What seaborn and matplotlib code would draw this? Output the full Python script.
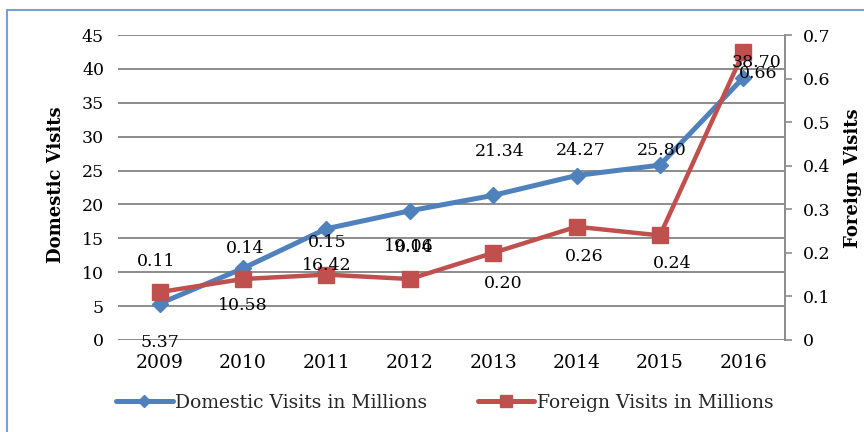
import matplotlib
matplotlib.use('Agg')
import matplotlib.pyplot as plt
import seaborn as sns
import pandas as pd
from matplotlib.lines import Line2D
from matplotlib.patches import Rectangle

# ---- data ----
years = ['2009', '2010', '2011', '2012', '2013', '2014', '2015', '2016']
domestic = [5.37, 10.58, 16.42, 19.06, 21.34, 24.27, 25.80, 38.70]
foreign = [0.11, 0.14, 0.15, 0.14, 0.20, 0.26, 0.24, 0.66]
left_ticks = [0, 5, 10, 15, 20, 25, 30, 35, 40, 45]
right_ticks = [0, 0.1, 0.2, 0.3, 0.4, 0.5, 0.6, 0.7]
right_tick_labels = ['0', '0.1', '0.2', '0.3', '0.4', '0.5', '0.6', '0.7']
domestic_name = 'Domestic Visits in Millions'
foreign_name = 'Foreign Visits in Millions'

# label offsets in pixels (position/style only)
dom_off = [(0, -39), (0, -37), (0, -37), (-1, -36), (7, 44), (4, 25), (2, 15), (13, 15)]
for_off = [(-4, 31), (2, 31), (1, 32), (4, 32), (10, -31), (8, -30), (12, -28), (15, -21)]

blue = '#4F81BD'
red = '#C0504D'
grid_c = '#8C8C8C'

sns.set_theme(style='white')
plt.rcParams['font.family'] = ['DejaVu Serif']

W, H = 864, 432
fig = plt.figure(figsize=(W / 100, H / 100), dpi=100)
fig.patch.set_facecolor('white')
ax = fig.add_axes([118 / W, 1 - 340 / H, (785 - 118) / W, (340 - 35) / H])

df = pd.DataFrame({'idx': list(range(len(years))), 'Domestic': domestic, 'Foreign': foreign})

sns.lineplot(data=df, x='idx', y='Domestic', ax=ax, color=blue, linewidth=3.6,
             marker='D', markersize=8.5, markeredgecolor=blue, markeredgewidth=1,
             legend=False)
ax2 = ax.twinx()
sns.lineplot(data=df, x='idx', y='Foreign', ax=ax2, color=red, linewidth=3.2,
             marker='s', markersize=11, markeredgecolor=red, markeredgewidth=1,
             legend=False)

ax.set_xlim(-0.5, len(years) - 0.5)
ax.set_ylim(0, 45)
ax2.set_ylim(0, 0.7)

ax.set_yticks(left_ticks)
ax.set_yticklabels([str(t) for t in left_ticks])
ax2.set_yticks(right_ticks)
ax2.set_yticklabels(right_tick_labels)
ax.set_xticks(range(len(years)))
ax.set_xticklabels(years)

ax.grid(axis='y', color=grid_c, linewidth=1.4)
ax.grid(axis='x', visible=False)
ax.set_axisbelow(True)
for s in ax.spines.values():
    s.set_visible(False)
for name, s in ax2.spines.items():
    s.set_visible(name == 'right')
ax2.spines['right'].set_color(grid_c)
ax2.spines['right'].set_linewidth(1.4)

ax.tick_params(axis='y', length=0, pad=10, labelsize=12.5, colors='black')
ax.tick_params(axis='x', length=0, pad=10, labelsize=13.5, colors='black')
ax2.tick_params(axis='y', length=5, width=1.2, color=grid_c, pad=8, labelsize=12.5,
                labelcolor='black')

ax.set_xlabel('')
ax.set_ylabel('Domestic Visits', fontsize=13, fontweight='bold', color='black')
ax2.set_ylabel('Foreign Visits', fontsize=13, fontweight='bold', color='black')
ax.yaxis.set_label_coords(-0.079, 0.51)
ax2.yaxis.set_label_coords(1.088, 0.53)

# data labels
for i, (v, off) in enumerate(zip(domestic, dom_off)):
    ax2.annotate(f'{v:.2f}', xy=(i, v), xycoords=ax.transData, xytext=off,
                 textcoords='offset pixels', ha='center', va='center',
                 fontsize=12.5, color='black', zorder=5)
for i, (v, off) in enumerate(zip(foreign, for_off)):
    ax2.annotate(f'{v:.2f}', xy=(i, v), xycoords='data', xytext=off,
                 textcoords='offset pixels', ha='center', va='center',
                 fontsize=12.5, color='black', zorder=5)

# legend
handles = [Line2D([], [], color=blue, lw=3.6, marker='D', markersize=6),
           Line2D([], [], color=red, lw=3.6, marker='s', markersize=9)]
fig.legend(handles, [domestic_name, foreign_name], loc='center',
           bbox_to_anchor=(445 / W, 1 - 403 / H), ncol=2, frameon=False,
           fontsize=13.5, handlelength=3.0, handletextpad=0.15, columnspacing=2.7)

# chart border
fig.add_artist(Rectangle((7 / W, -0.5), 2, 1 - 10 / H + 0.5, transform=fig.transFigure,
                         fill=False, edgecolor='#7A9FD4', linewidth=1.5))

fig.savefig('out.png', dpi=100)
